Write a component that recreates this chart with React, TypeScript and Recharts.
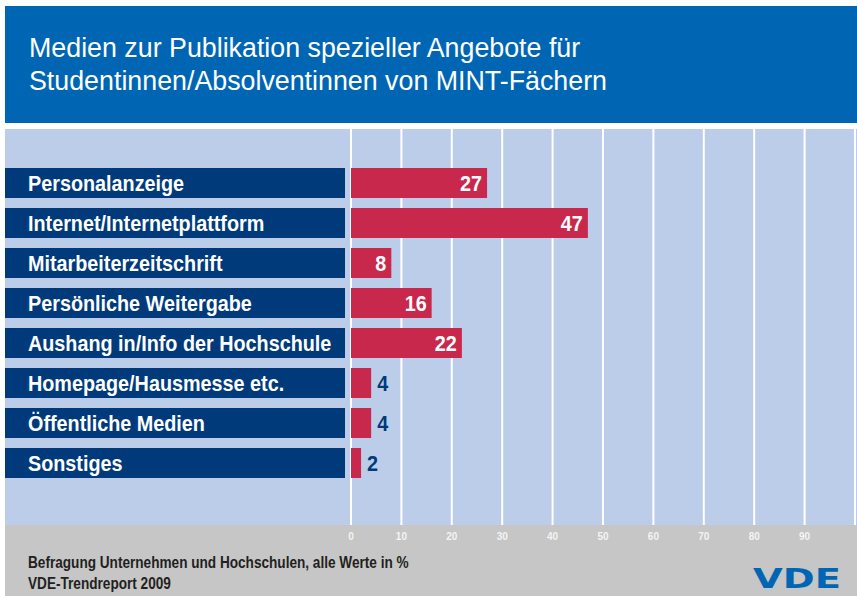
import React from "react";
import { Bar, BarChart, CartesianGrid, LabelList, XAxis, YAxis } from "recharts";

const categories = [
  "Personalanzeige",
  "Internet/Internetplattform",
  "Mitarbeiterzeitschrift",
  "Persönliche Weitergabe",
  "Aushang in/Info der Hochschule",
  "Homepage/Hausmesse etc.",
  "Öffentliche Medien",
  "Sonstiges",
];
const values = [27, 47, 8, 16, 22, 4, 4, 2];
const xTicks = [0, 10, 20, 30, 40, 50, 60, 70, 80, 90];

const titleLines = [
  "Medien zur Publikation spezieller Angebote für",
  "Studentinnen/Absolventinnen von MINT-Fächern",
];
const footnotes = [
  "Befragung Unternehmen und Hochschulen, alle Werte in %",
  "VDE-Trendreport 2009",
];

const HEADER_BLUE = "#0066b3";
const DARK_BLUE = "#003a7b";
const PANEL_BLUE = "#bccde9";
const FOOT_GRAY = "#c5c6c5";
const RED = "#c8284b";
const SANS = '"Liberation Sans", Arial, Helvetica, sans-serif';
// no narrow font installed, so squeeze Liberation Sans Bold instead
const SQUEEZE = 0.9;
const FOOT_SQUEEZE = 0.85;

const data = categories.map((label, i) => ({ label, value: values[i] }));

function LabelTick(props: any) {
  const { y, payload } = props;
  return (
    <g>
      <rect x={5} y={y - 15} width={340} height={30} fill={DARK_BLUE} />
      <text
        transform={`translate(28, ${y + 8}) scale(${SQUEEZE}, 1)`}
        fill="#fff"
        fontFamily={SANS}
        fontWeight="bold"
        fontSize={22}
      >
        {payload.value}
      </text>
    </g>
  );
}

function ValueLabel(props: any) {
  const { x, y, width, height, value } = props;
  const inside = value >= 8;
  const tx = inside ? x + width - 5 : x + width + 6;
  return (
    <text
      transform={`translate(${tx}, ${y + height / 2 + 8}) scale(${SQUEEZE}, 1)`}
      textAnchor={inside ? "end" : "start"}
      fill={inside ? "#fff" : DARK_BLUE}
      fontFamily={SANS}
      fontWeight="bold"
      fontSize={22}
    >
      {value}
    </text>
  );
}

export default function App() {
  return (
    <div style={{ position: "relative", width: 857, height: 596, background: "#fff", overflow: "hidden" }}>
      <style>{"body{margin:0}"}</style>
      <div style={{ position: "absolute", left: 5, top: 6, width: 852, height: 117, background: HEADER_BLUE }} />
      <div
        style={{
          position: "absolute",
          left: 29,
          top: 32,
          color: "#fff",
          fontFamily: SANS,
          fontSize: 26.8,
          lineHeight: "33px",
          whiteSpace: "nowrap",
        }}
      >
        {titleLines.map((t) => (
          <div key={t}>{t}</div>
        ))}
      </div>
      <div style={{ position: "absolute", left: 5, top: 129, width: 852, height: 396, background: PANEL_BLUE }} />
      <div style={{ position: "absolute", left: 5, top: 525, width: 852, height: 71, background: FOOT_GRAY }} />
      <div
        style={{
          position: "absolute",
          left: 28,
          top: 552,
          color: "#231f20",
          fontFamily: SANS,
          fontWeight: "bold",
          fontSize: 16,
          lineHeight: "21px",
          whiteSpace: "nowrap",
          transform: `scaleX(${FOOT_SQUEEZE})`,
          transformOrigin: "left top",
        }}
      >
        {footnotes.map((t) => (
          <div key={t}>{t}</div>
        ))}
      </div>
      <svg style={{ position: "absolute", left: 745, top: 560 }} width={105} height={34}>
        <text
          x={8}
          y={28}
          textLength={88}
          lengthAdjust="spacingAndGlyphs"
          fill={HEADER_BLUE}
          fontFamily='"DejaVu Sans", sans-serif'
          fontWeight="bold"
          fontSize={27}
        >
          VDE
        </text>
      </svg>
      <div style={{ position: "absolute", left: 0, top: 0 }}>
        <BarChart
          width={857}
          height={596}
          data={data}
          layout="vertical"
          margin={{ top: 129, right: 2, bottom: 41, left: 0 }}
        >
          <CartesianGrid horizontal={false} stroke="#fff" strokeWidth={2} />
          <XAxis
            type="number"
            domain={[0, 100]}
            ticks={xTicks}
            axisLine={false}
            tickLine={false}
            height={30}
            tick={{ fill: "#f4f4f4", fontSize: 10, fontWeight: "bold", fontFamily: SANS }}
          />
          <YAxis
            type="category"
            dataKey="label"
            width={351}
            axisLine={false}
            tickLine={false}
            interval={0}
            padding={{ top: 34, bottom: 42 }}
            tick={<LabelTick />}
          />
          <Bar dataKey="value" fill={RED} barSize={30} isAnimationActive={false}>
            <LabelList dataKey="value" content={ValueLabel} />
          </Bar>
        </BarChart>
      </div>
    </div>
  );
}
